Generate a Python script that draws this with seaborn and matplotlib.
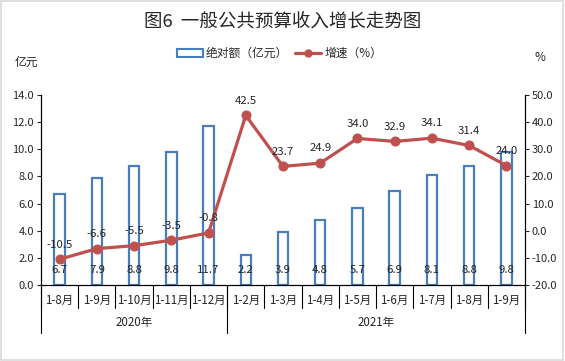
import numpy as np
import pandas as pd
import seaborn as sns
import matplotlib.pyplot as plt
from matplotlib.patches import Rectangle, Patch
from matplotlib.lines import Line2D
import matplotlib.transforms as mtransforms

# data
months = ["1-8月", "1-9月", "1-10月", "1-11月", "1-12月",
          "1-2月", "1-3月", "1-4月", "1-5月", "1-6月", "1-7月", "1-8月", "1-9月"]
years = ["2020年", "2021年"]
year_counts = [5, 8]
amount = [6.7, 7.9, 8.8, 9.8, 11.7, 2.2, 3.9, 4.8, 5.7, 6.9, 8.1, 8.8, 9.8]
growth = [-10.5, -6.6, -5.5, -3.5, -0.8, 42.5, 23.7, 24.9, 34.0, 32.9, 34.1, 31.4, 24.0]

BLUE = "#4a7ebb"
RED = "#c0504d"

sns.set_style("white")
plt.rcParams['font.family'] = ['Noto Sans CJK SC', 'DejaVu Sans']
plt.rcParams['axes.unicode_minus'] = False

df = pd.DataFrame({"pos": np.arange(len(months)), "amount": amount, "growth": growth})

fig = plt.figure(figsize=(5.65, 3.61), dpi=100)
ax = fig.add_axes([0.0726, 0.2105, 0.8566, 0.5263])

sns.barplot(data=df, x="pos", y="amount", ax=ax, fill=False, width=0.28,
            edgecolor=BLUE, linewidth=1.6, native_scale=True)
ax.set_xlim(-0.5, len(months) - 0.5)
ax.set_ylim(0, 14)
ax.set_yticks(np.arange(0, 14.1, 2))
ax.set_yticklabels([f"{v:.1f}" for v in np.arange(0, 14.1, 2)], fontsize=8)
ax.set_xticks([])
ax.set_xlabel("")
ax.set_ylabel("")

ax2 = ax.twinx()
sns.lineplot(data=df, x="pos", y="growth", ax=ax2, color=RED, linewidth=2.3,
             marker="o", markersize=6.5, markeredgecolor=RED)
ax2.set_ylim(-20, 50)
ax2.set_yticks(np.arange(-20, 51, 10))
ax2.set_yticklabels([f"{v:.1f}" for v in np.arange(-20, 51, 10)], fontsize=8)
ax2.set_xlabel("")
ax2.set_ylabel("")
ax2.set_xlim(-0.5, len(months) - 0.5)

for a in (ax, ax2):
    for s in a.spines.values():
        s.set_color("black")
        s.set_linewidth(0.8)
    a.spines["top"].set_visible(False)
ax.tick_params(axis="y", direction="out", length=3, width=0.8, left=True, pad=2)
ax2.tick_params(axis="y", direction="out", length=3, width=0.8, right=True, pad=2)

# value labels
for i, v in enumerate(amount):
    ax.text(i, 1.1, f"{v:.1f}", ha="center", va="center", fontsize=8.2)
for i, v in enumerate(growth):
    ax2.annotate(f"{v:.1f}", (i, v), xytext=(0, 7), textcoords="offset points",
                 ha="center", va="bottom", fontsize=8.2)

# two-level category axis
trans = mtransforms.blended_transform_factory(ax.transData, ax.transAxes)
for i, m in enumerate(months):
    ax.text(i, -0.08, m, transform=trans, ha="center", va="center", fontsize=8.3)
bounds = np.cumsum([0] + year_counts) - 0.5
for x in np.arange(len(months) + 1) - 0.5:
    ax.plot([x, x], [0, -0.12], transform=trans, color="black", lw=0.8, clip_on=False)
for x in bounds:
    ax.plot([x, x], [0, -0.25], transform=trans, color="black", lw=0.8, clip_on=False)
for k, y in enumerate(years):
    ax.text((bounds[k] + bounds[k + 1]) / 2, -0.195, y, transform=trans,
            ha="center", va="center", fontsize=8.3)

fig.text(0.5, 0.94, "图6  一般公共预算收入增长走势图", ha="center", va="center", fontsize=13.3)
fig.text(0.046, 0.826, "亿元", ha="center", va="center", fontsize=8.5)
fig.text(0.956, 0.842, "%", ha="center", va="center", fontsize=8.5)

handles = [Patch(facecolor="white", edgecolor=BLUE, linewidth=1.5, label="绝对额（亿元）"),
           Line2D([0], [0], color=RED, lw=2.3, marker="o", markersize=5, label="增速（%）")]
fig.legend(handles=handles, loc="center", bbox_to_anchor=(0.495, 0.852), ncol=2,
           frameon=False, fontsize=8.5, handlelength=2.2, columnspacing=0.6, handletextpad=0.3)

fig.add_artist(Rectangle((0.002, 0.003), 0.995, 0.993, transform=fig.transFigure,
                         fill=False, edgecolor="#d9d9d9", linewidth=1.2))

fig.savefig("out.png", dpi=100)
